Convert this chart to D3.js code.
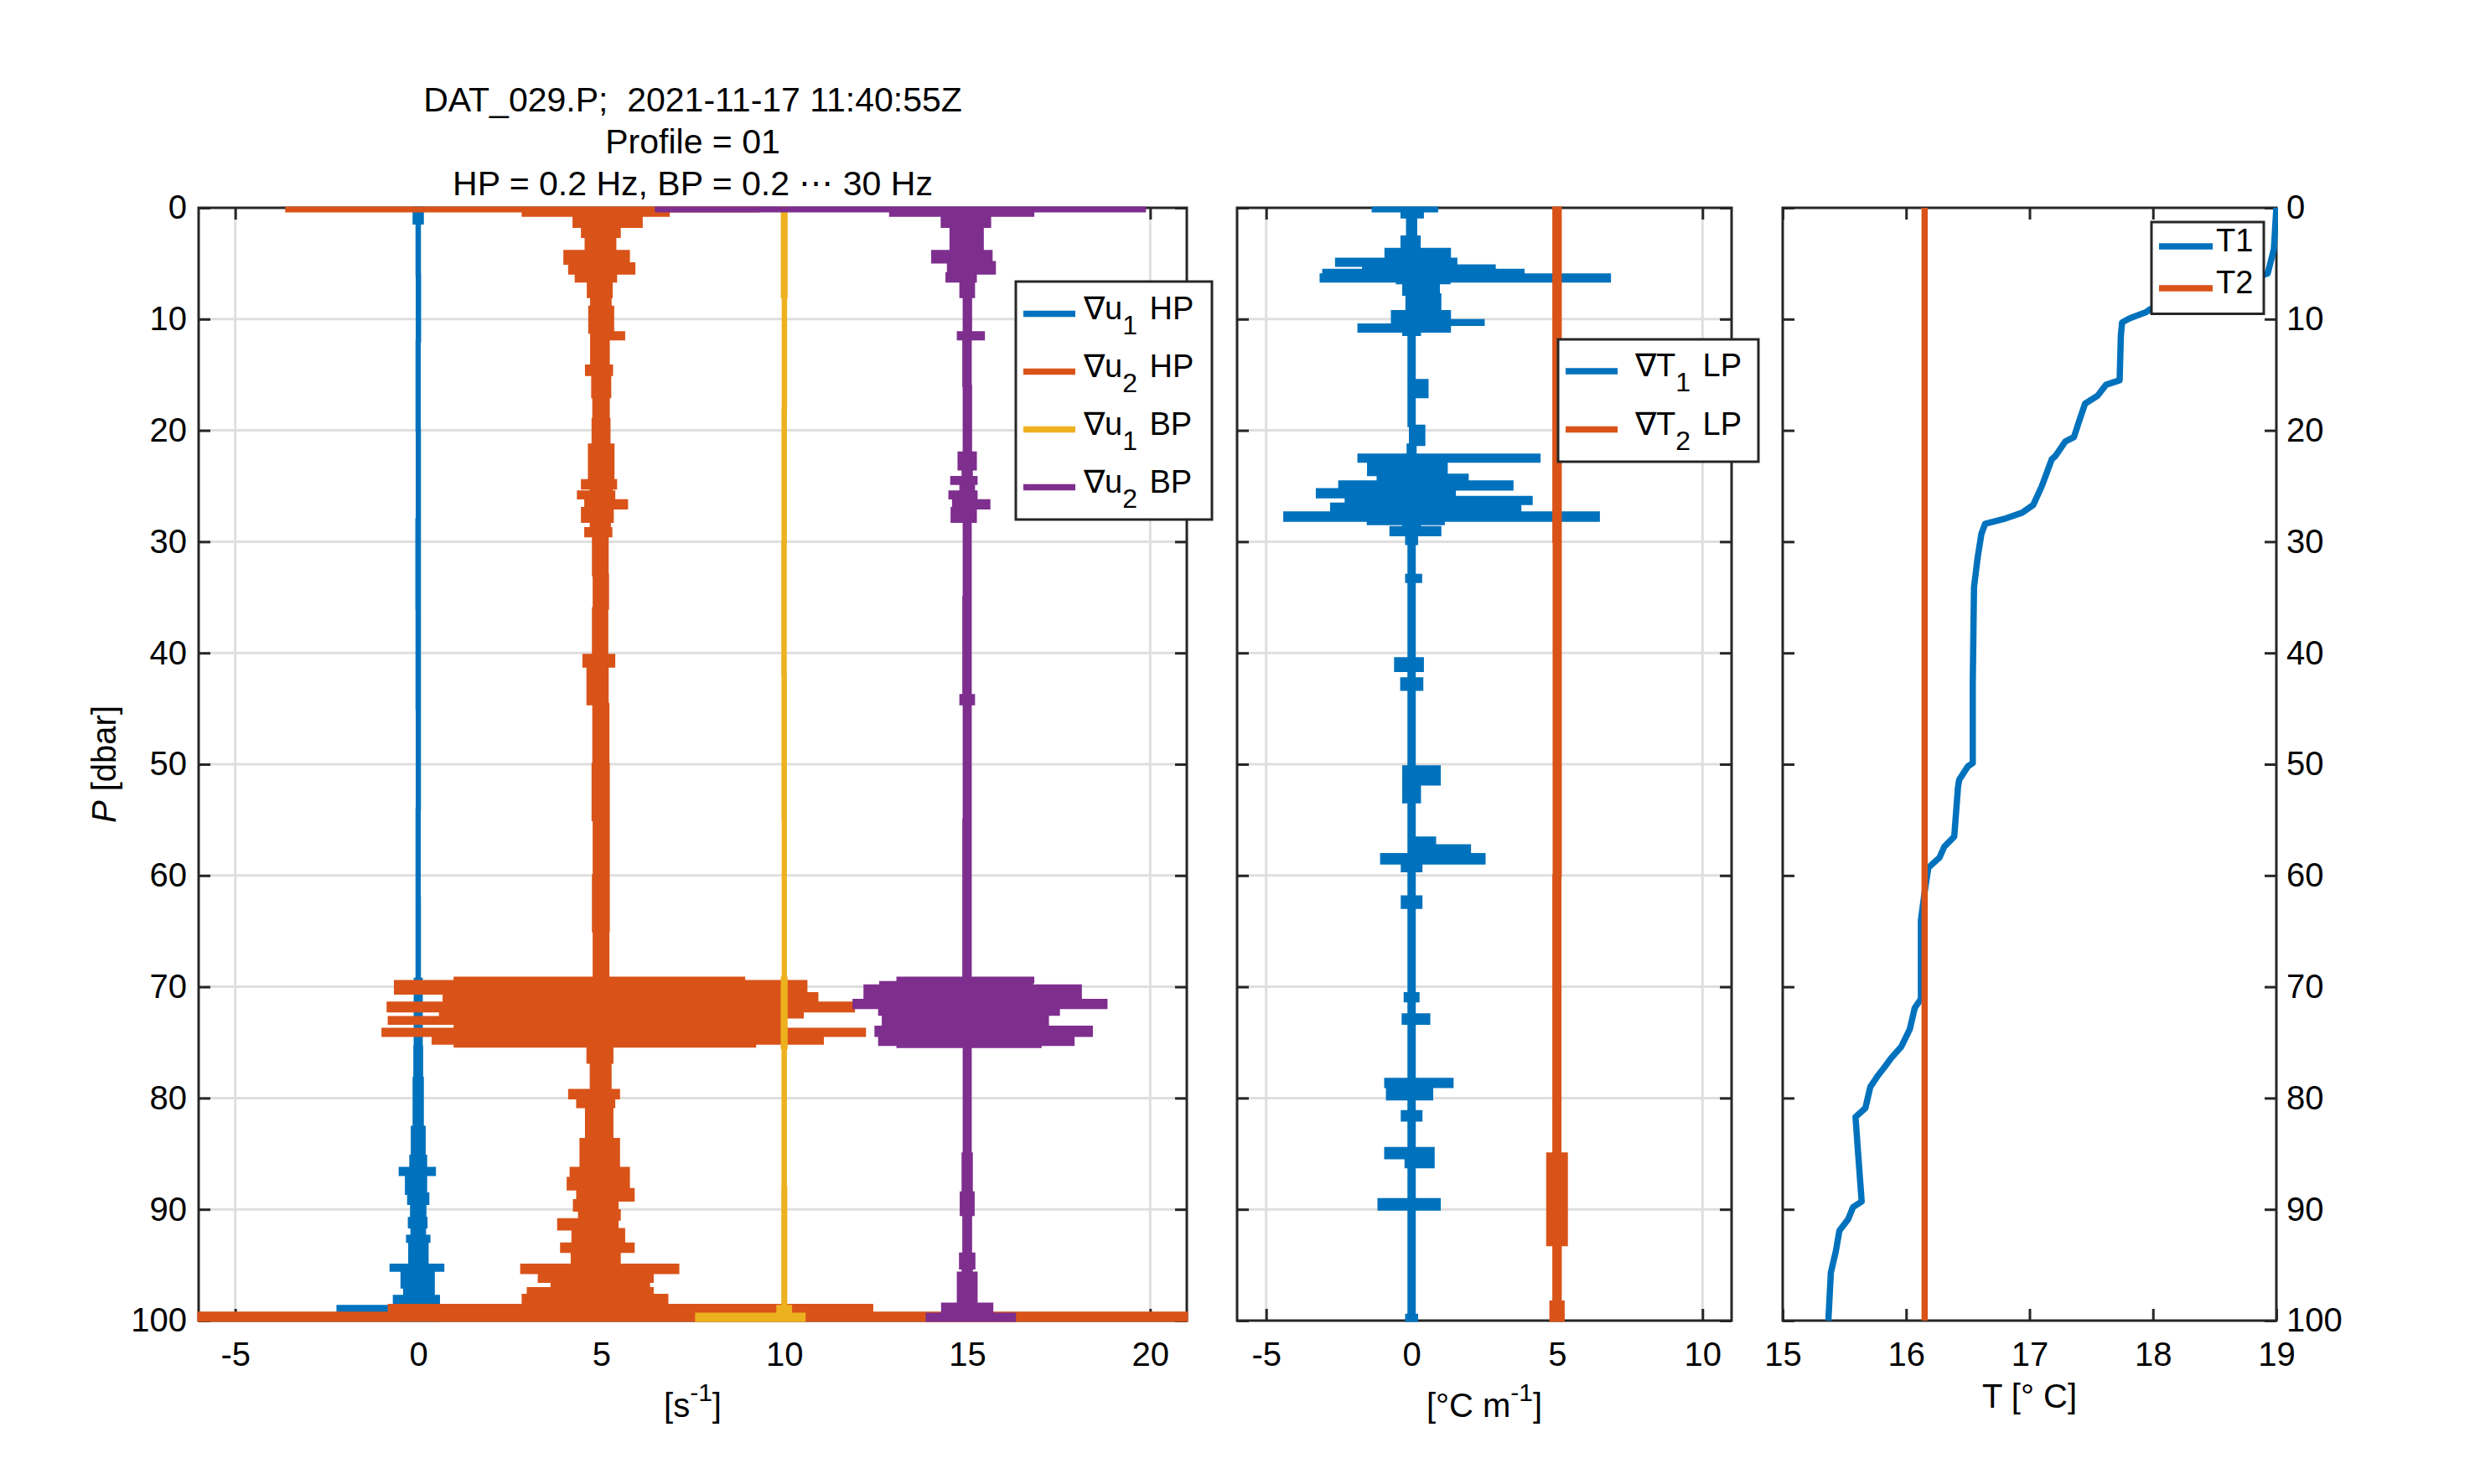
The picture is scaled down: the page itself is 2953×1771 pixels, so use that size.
<!DOCTYPE html>
<html>
<head>
<meta charset="utf-8">
<script src="https://cdn.jsdelivr.net/npm/d3@7"></script>
<style>
  body { margin: 0; background: #fff; }
  text { font-family: "Liberation Sans", Arial, Helvetica, sans-serif; fill: #000; }
</style>
</head>
<body>
<div id="chart"></div>
<script>
"use strict";

// ---- data ----
const pressureTicks = [0, 10, 20, 30, 40, 50, 60, 70, 80, 90, 100];
const shearTicks = [-5, 0, 5, 10, 15, 20];
const gradTTicks = [-5, 0, 5, 10];
const tempTicks = [15, 16, 17, 18, 19];

const shearNames = ["u1 HP", "u2 HP", "u1 BP", "u2 BP"];
const shearOffsets = [0, 5, 10, 15];
const gradTNames = ["T1 LP", "T2 LP"];
const gradTOffsets = [0, 5];
const tempNames = ["T1", "T2"];

// [P, low, high] envelope of each trace, relative to its offset
const u1HP = [[0,-0.1,0.1],[0.3,-0.12,0.12],[1.4,-0.04,0.04],[6,-0.035,0.045],[12,-0.04,0.035],
  [20,-0.035,0.04],[28,-0.045,0.04],[36,-0.04,0.04],[45,-0.035,0.04],[54,-0.04,0.035],[62,-0.04,0.04],
  [69.3,-0.09,0.09],[75.4,-0.1,0.1],[78.2,-0.12,0.12],[82.6,-0.17,0.17],[85.2,-0.21,0.21],
  [86.3,-0.5,0.45],[86.9,-0.33,0.21],[88.6,-0.27,0.27],[89.5,-0.19,0.19],[90.8,-0.25,0.22],
  [91.6,-0.18,0.18],[92.4,-0.3,0.3],[92.9,-0.24,0.25],[95,-0.75,0.68],[95.5,-0.45,0.42],
  [97,-0.38,0.42],[97.8,-0.66,0.56],[98.7,-2.2,1.0],[99.3,-0.5,0.5],[100,-0.5,0.5]];

const u2HP = [[0,-8.6,4.3],[0.3,-2.14,1.84],[0.7,-0.75,1.1],[1.7,-0.52,0.5],[2.6,-0.42,0.38],
  [3.9,-1.0,0.75],[5.0,-0.87,0.9],[5.9,-0.69,0.4],[6.6,-0.36,0.28],[8.0,-0.27,0.25],[8.9,-0.32,0.32],
  [11.2,-0.27,0.62],[11.8,-0.27,0.2],[14.2,-0.41,0.29],[15.0,-0.24,0.24],[17,-0.21,0.2],[19,-0.23,0.22],
  [21.3,-0.33,0.33],[24.5,-0.52,0.4],[25.2,-0.28,0.28],[25.5,-0.63,0.35],[26.1,-0.33,0.28],
  [26.3,-0.43,0.7],[27,-0.52,0.31],[28.2,-0.28,0.23],[28.8,-0.43,0.27],[29.5,-0.22,0.17],
  [33,-0.2,0.18],[36,-0.22,0.16],[40.2,-0.48,0.35],[41.2,-0.37,0.17],[44.6,-0.21,0.19],
  [50,-0.23,0.2],[55,-0.2,0.2],[60,-0.22,0.2],[65,-0.2,0.19],
  [69.2,-4.0,3.9],[69.5,-5.63,5.6],[70.6,-4.3,5.9],[71.45,-5.83,6.9],[72.2,-4.4,5.5],
  [72.75,-5.8,5.0],[73.3,-4.0,4.9],[73.8,-5.97,7.2],[74.4,-4.6,6.05],[75.1,-4.0,4.2],
  [75.35,-0.37,0.3],[76.8,-0.28,0.25],[79.3,-0.87,0.48],[80.0,-0.65,0.35],[80.8,-0.41,0.3],
  [83.7,-0.56,0.48],[86.3,-0.83,0.75],[87.2,-0.91,0.75],[88.2,-0.65,0.88],[89.2,-0.74,0.44],
  [90.1,-0.6,0.5],[90.9,-1.17,0.44],[91.8,-0.78,0.62],[93.1,-1.09,0.88],[93.8,-0.8,0.5],
  [95.0,-2.18,2.1],[95.7,-1.7,1.4],[96.5,-1.35,1.3],[97.1,-2.0,1.4],[97.7,-2.14,1.8],
  [98.6,-5.8,7.4],[99.3,-11,16],[100,-11,16]];

const u1BP = [[0,-0.06,0.06],[8,-0.035,0.045],[18,-0.04,0.04],[30,-0.045,0.035],[42,-0.04,0.04],
  [55,-0.035,0.04],[69.2,-0.06,0.06],[75.5,-0.04,0.04],[88,-0.045,0.05],[98.7,-0.18,0.18],
  [99.4,-2.4,0.55],[100,-2.4,0.55]];

const u2BP = [[0,-8.5,4.85],[0.3,-2.1,1.8],[0.7,-0.69,0.62],[1.7,-0.45,0.42],[3.9,-0.95,0.66],
  [4.9,-0.52,0.75],[5.9,-0.56,0.23],[6.6,-0.18,0.18],[8,-0.09,0.1],[11.2,-0.25,0.45],[11.8,-0.1,0.09],
  [16,-0.09,0.1],[22,-0.23,0.23],[23.5,-0.12,0.12],[24.2,-0.43,0.25],[24.8,-0.18,0.18],
  [25.5,-0.48,0.25],[26.1,-0.18,0.18],[26.3,-0.38,0.6],[27,-0.42,0.23],[28.2,-0.09,0.09],
  [35,-0.1,0.09],[43.8,-0.18,0.18],[44.6,-0.09,0.09],[55,-0.1,0.09],
  [69.2,-1.9,1.8],[69.6,-2.37,1.77],[69.9,-2.8,3.1],[71.2,-3.1,3.8],[71.9,-2.4,2.5],
  [72.5,-2.3,2.2],[73.6,-2.5,3.4],[74.4,-2.4,2.9],[75.2,-1.9,2.0],[75.4,-0.09,0.09],
  [85,-0.12,0.12],[88.5,-0.17,0.17],[90.5,-0.1,0.1],[94,-0.19,0.19],[95.3,-0.12,0.12],
  [95.7,-0.25,0.25],[98.5,-0.68,0.68],[99.4,-1.1,1.3],[100,-1.1,1.3]];

const dT1 = [[0,-1.33,0.87],[0.3,-0.34,0.38],[0.85,-0.15,0.15],[2.6,-0.34,0.27],[3.7,-0.89,1.31],
  [4.6,-2.59,1.53],[5.2,-1.66,2.85],[5.6,-3.03,3.84],[6.0,-3.12,6.81],[6.6,-0.5,1.3],
  [6.75,-0.28,0.93],[7.8,-0.17,0.98],[9.3,-0.67,1.31],[10.1,-0.67,2.47],[10.5,-1.82,1.31],
  [11.1,-0.28,0.28],[11.4,-0.1,0.1],[15.5,-0.1,0.54],[17,-0.1,0.1],[19.6,-0.05,0.43],
  [21.3,-0.13,0.13],[22.2,-1.82,4.39],[22.8,-1.49,1.2],[24.0,-1.16,1.92],[24.6,-2.48,3.46],
  [25.3,-3.25,1.48],[26.0,-2.26,4.12],[26.6,-2.76,3.73],[27.4,-4.37,6.43],[28.1,-1.5,1.1],
  [28.4,-0.28,0.28],[28.7,-0.72,0.98],[29.4,-0.18,0.18],[30.2,-0.1,0.1],[33,-0.18,0.32],
  [33.6,-0.1,0.1],[40.5,-0.56,0.38],[41.6,-0.1,0.1],[42.3,-0.35,0.36],[43.3,-0.1,0.1],
  [50.2,-0.28,0.96],[51.8,-0.28,0.28],[53.4,-0.1,0.1],[56.6,-0.1,0.8],[57.3,-0.1,2.0],
  [58.1,-1.04,2.5],[58.9,-0.33,0.33],[59.6,-0.1,0.1],[61.9,-0.33,0.33],[62.9,-0.1,0.1],
  [70.6,-0.23,0.23],[71.3,-0.1,0.1],[72.5,-0.3,0.6],[73.3,-0.1,0.1],[78.3,-0.9,1.4],
  [79.0,-0.84,0.7],[80.1,-0.1,0.1],[81.2,-0.33,0.33],[82.0,-0.1,0.1],[84.5,-0.9,0.75],
  [85.4,-0.2,0.75],[86.2,-0.1,0.1],[89.1,-1.13,0.96],[90.0,-0.1,0.1],[99.5,-0.18,0.18],[100,-0.18,0.18]];

const dT2 = [[0,-0.12,0.12],[30,-0.11,0.12],[60,-0.12,0.11],[85,-0.33,0.33],[93.2,-0.12,0.12],
  [98.3,-0.22,0.22],[100,-0.22,0.22]];

// [P, T]
const tempT1 = [[0,19.0],[3.7,18.98],[5.9,18.93],[8.9,18.02],[9.1,17.98],[9.4,17.94],[9.94,17.81],
  [10.3,17.75],[11.5,17.74],[15.5,17.73],[15.9,17.62],[16.9,17.55],[17.6,17.45],[18.9,17.41],
  [20.6,17.36],[21,17.29],[22.3,17.21],[22.6,17.18],[25,17.10],[26.7,17.03],[27.4,16.94],
  [27.9,16.81],[28.4,16.64],[29.3,16.61],[31.4,16.58],[34.1,16.55],[42.7,16.54],[49.9,16.54],
  [50.2,16.50],[51.4,16.43],[52.1,16.42],[56.5,16.39],[57.4,16.31],[58.4,16.27],[59.3,16.18],
  [61.5,16.15],[64,16.12],[71.1,16.12],[71.9,16.07],[73.8,16.03],[75.4,15.96],[76.4,15.88],
  [77.3,15.82],[78,15.77],[79,15.71],[80.9,15.67],[81.7,15.59],[84.8,15.61],[89.3,15.64],
  [89.8,15.57],[90.9,15.53],[91.9,15.46],[93.8,15.43],[95.7,15.39],[100,15.37]];
const tempT2 = [[0,16.15],[100,16.15]];

const colors = ["#0072BD", "#D95319", "#EDB120", "#7E2F8E"];
const axisColor = "#262626";
const gridColor = "#dfdfdf";
const plain = d => String(d);   // hyphen minus, no decimals

// ---- layout ----
const W = 2953, H = 1771;
const yTop = 248, yBottom = 1576;
const svg = d3.select("#chart").append("svg").attr("width", W).attr("height", H);
svg.append("rect").attr("width", W).attr("height", H).attr("fill", "white");

const y = d3.scaleLinear().domain([0, 100]).range([yTop, yBottom]);

const panels = [
  { x0: 237, x1: 1416, domain: [-6, 21], ticks: shearTicks, grid: true },
  { x0: 1476, x1: 2066, domain: [-6, 11], ticks: gradTTicks, grid: true },
  { x0: 2127, x1: 2716, domain: [15, 19], ticks: tempTicks, grid: false }
];

panels.forEach((p, i) => {
  p.x = d3.scaleLinear().domain(p.domain).range([p.x0, p.x1]);
  p.g = svg.append("g");
  p.clip = "clip" + i;
  svg.append("clipPath").attr("id", p.clip).append("rect")
    .attr("x", p.x0 - 2).attr("y", yTop - 4)
    .attr("width", p.x1 - p.x0 + 4).attr("height", yBottom - yTop + 8);

  if (p.grid) {
    p.g.selectAll(".vg").data(p.ticks).enter().append("line")
      .attr("x1", d => p.x(d)).attr("x2", d => p.x(d))
      .attr("y1", yTop).attr("y2", yBottom)
      .attr("stroke", gridColor).attr("stroke-width", 3);
    p.g.selectAll(".hg").data(pressureTicks.slice(1, -1)).enter().append("line")
      .attr("x1", p.x0).attr("x2", p.x1)
      .attr("y1", d => y(d)).attr("y2", d => y(d))
      .attr("stroke", gridColor).attr("stroke-width", 3);
  }

  // axes (ticks point inward)
  const bAxis = d3.axisBottom(p.x).tickValues(p.ticks).tickSize(-14).tickPadding(25.5).tickFormat(plain);
  const tAxis = d3.axisTop(p.x).tickValues(p.ticks).tickSize(-14).tickFormat("");
  const lAxis = d3.axisLeft(y).tickValues(pressureTicks).tickSize(-14)
    .tickFormat(i === 0 ? plain : "").tickPadding(14);
  const rAxis = d3.axisRight(y).tickValues(pressureTicks).tickSize(-14)
    .tickFormat(i === 2 ? plain : "").tickPadding(12);

  [[bAxis, `translate(0,${yBottom})`], [tAxis, `translate(0,${yTop})`],
   [lAxis, `translate(${p.x0},0)`], [rAxis, `translate(${p.x1},0)`]].forEach(([ax, tr]) => {
    const a = p.g.append("g").attr("transform", tr).call(ax);
    a.select(".domain").remove();
    a.selectAll("line").attr("stroke", axisColor).attr("stroke-width", 3);
    a.selectAll("text").attr("font-size", 40).attr("fill", axisColor)
      .style("font-family", '"Liberation Sans", Arial, Helvetica, sans-serif');
  });

  p.g.append("rect")
    .attr("x", p.x0).attr("y", yTop)
    .attr("width", p.x1 - p.x0).attr("height", yBottom - yTop)
    .attr("fill", "none").attr("stroke", axisColor).attr("stroke-width", 3);

  p.data = svg.append("g").attr("clip-path", `url(#${p.clip})`);
});

// ---- noisy traces as step envelopes ----
function drawTrace(panel, rows, offset, color) {
  const area = d3.area()
    .curve(d3.curveStepBefore)
    .y(d => y(d[0]))
    .x0(d => panel.x(offset + d[1]))
    .x1(d => panel.x(offset + d[2]));
  panel.data.append("path")
    .attr("d", area(rows))
    .attr("fill", color)
    .attr("stroke", color)
    .attr("stroke-width", 3)
    .attr("stroke-linejoin", "miter");
}

[u1HP, u2HP, u1BP, u2BP].forEach((s, i) => drawTrace(panels[0], s, shearOffsets[i], colors[i]));
[dT1, dT2].forEach((s, i) => drawTrace(panels[1], s, gradTOffsets[i], colors[i]));

const tLine = d3.line().x(d => panels[2].x(d[1])).y(d => y(d[0]));
[tempT1, tempT2].forEach((s, i) => {
  panels[2].data.append("path")
    .attr("d", tLine(s))
    .attr("fill", "none")
    .attr("stroke", colors[i])
    .attr("stroke-width", 7.5)
    .attr("stroke-linejoin", "round");
});

// ---- legends ----
function legend(box, rows, lineX, textX, sub) {
  svg.append("rect")
    .attr("x", box[0]).attr("y", box[1])
    .attr("width", box[2] - box[0]).attr("height", box[3] - box[1])
    .attr("fill", "white").attr("stroke", axisColor).attr("stroke-width", 3);
  rows.forEach(r => {
    svg.append("line")
      .attr("x1", lineX[0]).attr("x2", lineX[1])
      .attr("y1", r.y).attr("y2", r.y)
      .attr("stroke", r.color).attr("stroke-width", 7.5);
    const t = svg.append("text").attr("x", textX).attr("y", r.y + 6).attr("font-size", 38);
    if (sub) {
      const parts = r.name.split(" ");
      t.append("tspan").text("\u2207" + parts[0].slice(0, 1));
      t.append("tspan").attr("font-size", 32).attr("dy", 18).text(parts[0].slice(1));
      t.append("tspan").attr("dy", -18).attr("dx", 4).text(" " + parts[1]);
    } else {
      t.text(r.name);
    }
  });
}

legend([1212, 336, 1446, 620],
  shearNames.map((n, i) => ({ name: n, color: colors[i], y: [374.5, 443.5, 512.5, 581.5][i] })),
  [1221, 1283], 1293, true);
legend([1859, 405, 2098, 551],
  gradTNames.map((n, i) => ({ name: n, color: colors[i], y: [443, 512.5][i] })),
  [1868, 1930], 1951, true);
legend([2567, 265, 2701, 374.5],
  tempNames.map((n, i) => ({ name: n, color: colors[i], y: [294, 344][i] })),
  [2576, 2640], 2644, false);

// ---- titles and labels ----
const titleLines = ["DAT_029.P;  2021-11-17 11:40:55Z", "Profile = 01", "HP = 0.2 Hz, BP = 0.2 \u22EF 30 Hz"];
titleLines.forEach((s, i) => {
  svg.append("text")
    .attr("x", 826.5).attr("y", 133 + i * 50)
    .attr("text-anchor", "middle").attr("font-size", 41)
    .style("white-space", "pre")
    .text(s);
});

function supLabel(x, yb, pre, sup, post) {
  const t = svg.append("text").attr("x", x).attr("y", yb)
    .attr("text-anchor", "middle").attr("font-size", 40);
  t.append("tspan").text(pre);
  t.append("tspan").attr("font-size", 30).attr("dy", -19).text(sup);
  t.append("tspan").attr("dy", 19).text(post);
}
supLabel(826.5, 1691, "[s", "-1", "]");
supLabel(1771, 1691, "[\u00B0C m", "-1", "]");
svg.append("text").attr("x", 2421.5).attr("y", 1680)
  .attr("text-anchor", "middle").attr("font-size", 40)
  .style("white-space", "pre")
  .text("T [\u00B0 C]");

const yl = svg.append("text")
  .attr("transform", "translate(138,912) rotate(-90)")
  .attr("text-anchor", "middle").attr("font-size", 40);
yl.append("tspan").attr("font-style", "italic").text("P");
yl.append("tspan").text(" [dbar]");
</script>
</body>
</html>
